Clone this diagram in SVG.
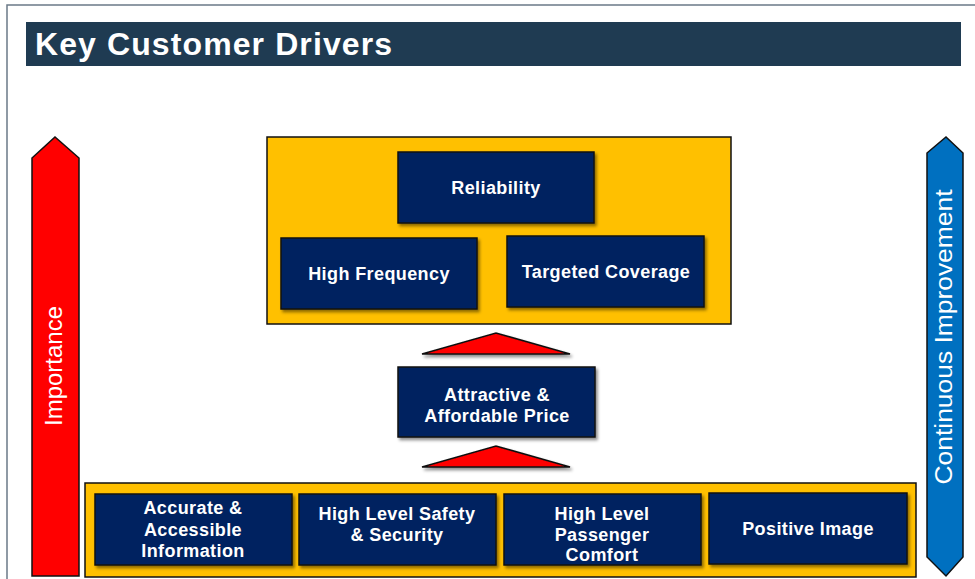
<svg xmlns="http://www.w3.org/2000/svg" width="975" height="579" viewBox="0 0 975 579">
  <defs>
    <filter id="sh" x="-10%" y="-10%" width="130%" height="140%">
      <feDropShadow dx="2" dy="2.5" stdDeviation="1.5" flood-color="#000" flood-opacity="0.45"/>
    </filter>
  </defs>
  <style>
    .frame{fill:#fff;stroke:#6b7a88;stroke-width:1.5}
    .bar{fill:#1f3b52}
    .title{font-family:"Liberation Sans",Arial,sans-serif;font-weight:bold;font-size:32px;fill:#fff;letter-spacing:1.1px}
    .yel{fill:#FFC000;stroke:#111;stroke-width:1.5}
    .box{fill:#002060;stroke:#111;stroke-width:1.5;filter:url(#sh)}
    .lbl{font-family:"Liberation Sans",Arial,sans-serif;font-weight:bold;font-size:18px;fill:#fff;text-anchor:middle;letter-spacing:0.4px}
    .tri{fill:#FF0000;stroke:#111;stroke-width:1.5;filter:url(#sh)}
    .side{font-family:"Liberation Sans",Arial,sans-serif;fill:#fff;text-anchor:middle}
  </style>
  <rect class="frame" x="7" y="5" width="980" height="590"/>
  <g id="title">
    <rect class="bar" x="26" y="22" width="935" height="44"/>
    <text class="title" x="35" y="55">Key Customer Drivers</text>
  </g>
  <g id="importance">
    <polygon points="32,158 55,137 79,158 79,576 32,576" fill="#FF0000" stroke="#111" stroke-width="1.5"/>
    <text class="side" font-size="24" transform="translate(62,366) rotate(-90)">Importance</text>
  </g>
  <g id="continuous-improvement">
    <polygon points="927,153 946,137 963,153 963,557 946,576 927,557" fill="#0070C0" stroke="#111" stroke-width="1.5"/>
    <text class="side" font-size="23" textLength="295" lengthAdjust="spacingAndGlyphs" transform="translate(952,337) rotate(-90)">Continuous Improvement</text>
  </g>
  <g id="top-group">
    <rect class="yel" x="267" y="137" width="464" height="187"/>
  </g>
  <g id="reliability">
    <rect class="box" x="398" y="152" width="196" height="71"/>
    <text class="lbl" x="496" y="194">Reliability</text>
  </g>
  <g id="high-frequency">
    <rect class="box" x="281" y="238" width="196" height="71"/>
    <text class="lbl" x="379" y="280">High Frequency</text>
  </g>
  <g id="targeted-coverage">
    <rect class="box" x="507" y="236" width="197" height="71"/>
    <text class="lbl" x="606" y="278">Targeted Coverage</text>
  </g>
  <g id="connectors">
    <polygon class="tri" points="422,354 496,333 570,354"/>
    <polygon class="tri" points="422,467 496,446 570,467"/>
  </g>
  <g id="price">
    <rect class="box" x="398" y="367" width="197" height="70"/>
    <text class="lbl" x="497" y="401">Attractive &amp;</text>
    <text class="lbl" x="497" y="422">Affordable Price</text>
  </g>
  <g id="bottom-group">
    <rect class="yel" x="85" y="483" width="831" height="94"/>
  </g>
  <g id="information">
    <rect class="box" x="95" y="494" width="197" height="71"/>
    <text class="lbl" x="193" y="514">Accurate &amp;</text>
    <text class="lbl" x="193" y="536">Accessible</text>
    <text class="lbl" x="193" y="557">Information</text>
  </g>
  <g id="safety">
    <rect class="box" x="299" y="494" width="197" height="71"/>
    <text class="lbl" x="397" y="520">High Level Safety</text>
    <text class="lbl" x="397" y="541">&amp; Security</text>
  </g>
  <g id="comfort">
    <rect class="box" x="504" y="494" width="197" height="71"/>
    <text class="lbl" x="602" y="520">High Level</text>
    <text class="lbl" x="602" y="541">Passenger</text>
    <text class="lbl" x="602" y="561">Comfort</text>
  </g>
  <g id="image">
    <rect class="box" x="709" y="493" width="198" height="71"/>
    <text class="lbl" x="808" y="535">Positive Image</text>
  </g>
</svg>
